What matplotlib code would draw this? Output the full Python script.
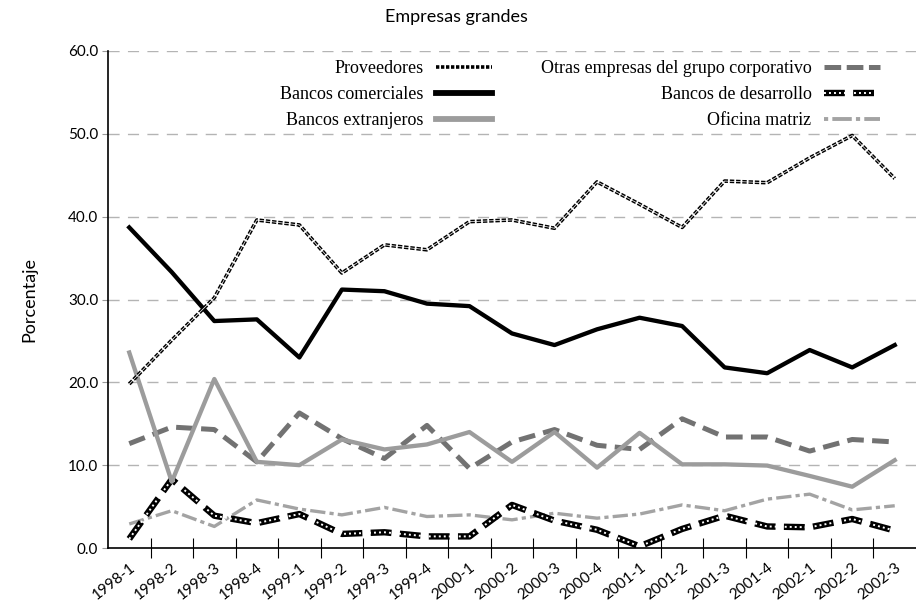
import matplotlib

matplotlib.use("Agg")
import matplotlib.pyplot as plt
import numpy as np
from matplotlib.lines import Line2D

periods = ["1998-1", "1998-2", "1998-3", "1998-4", "1999-1", "1999-2", "1999-3", "1999-4",
           "2000-1", "2000-2", "2000-3", "2000-4", "2001-1", "2001-2", "2001-3", "2001-4",
           "2002-1", "2002-2", "2002-3"]

proveedores = [19.8, 25.1, 30.2, 39.6, 39.0, 33.2, 36.6, 36.0, 39.4, 39.6, 38.6, 44.2,
               41.5, 38.7, 44.3, 44.1, 47.1, 49.8, 44.6]
bancos_comerciales = [38.7, 33.3, 27.4, 27.6, 23.0, 31.2, 31.0, 29.5, 29.2, 25.9, 24.5, 26.4,
                      27.8, 26.8, 21.8, 21.1, 23.9, 21.8, 24.5]
bancos_extranjeros = [23.6, 8.0, 20.4, 10.4, 10.0, 13.1, 11.9, 12.5, 14.0, 10.4, 14.0, 9.7,
                      13.9, 10.1, 10.1, 9.95, 8.7, 7.4, 10.6]
otras_empresas = [12.6, 14.6, 14.3, 10.4, 16.3, 13.2, 10.8, 14.8, 9.6, 12.8, 14.3, 12.4,
                  11.9, 15.6, 13.4, 13.4, 11.7, 13.1, 12.8]
bancos_desarrollo = [1.1, 8.3, 3.9, 3.0, 4.1, 1.7, 1.9, 1.4, 1.4, 5.2, 3.3, 2.2,
                     0.2, 2.3, 3.9, 2.6, 2.5, 3.5, 2.1]
oficina_matriz = [2.9, 4.5, 2.6, 5.8, 4.7, 4.0, 4.9, 3.8, 4.0, 3.4, 4.2, 3.6,
                  4.1, 5.2, 4.5, 5.9, 6.5, 4.6, 5.1]

SANS = "Lato"
SERIF = "Liberation Serif"

plt.rcParams["lines.scale_dashes"] = False

fig = plt.figure(figsize=(9.16, 6.01), dpi=100)
ax = fig.add_axes([108 / 916, 1 - 548 / 601, 808 / 916, 497 / 601])

x = np.arange(len(periods))

# styles shared by the plotted lines and the legend handles
s_prov = dict(color="black", lw=2.6, dashes=(3.2, 1.3))
s_prov_w = dict(color="white", lw=0.5)
s_com = dict(color="black", lw=3.1)
s_ext = dict(color="#9c9c9c", lw=3.1)
s_otr = dict(color="#727272", lw=3.6, dashes=(12, 6))
s_des = dict(color="black", lw=4.6, dashes=(15, 6))
s_des_w = dict(color="white", lw=1.4, dashes=(1.4, 2.2))
s_ofi = dict(color="#a3a3a3", lw=2.4, dashes=(11, 3, 3, 3))

ax.plot(x, oficina_matriz, **s_ofi)
ax.plot(x, bancos_desarrollo, **s_des)
ax.plot(x, bancos_desarrollo, **s_des_w)
ax.plot(x, otras_empresas, **s_otr)
ax.plot(x, bancos_extranjeros, **s_ext)
ax.plot(x, bancos_comerciales, **s_com)
ax.plot(x, proveedores, **s_prov)
ax.plot(x, proveedores, **s_prov_w)

ax.set_xlim(-0.5, len(periods) - 0.5)
ax.set_ylim(0, 60)
ax.set_yticks(np.arange(0, 61, 10))
ax.set_yticklabels([f"{v:.1f}" for v in np.arange(0, 61, 10)], fontsize=11, family=SANS)
ax.tick_params(axis="y", length=4, color="#999999", pad=3)

ax.set_xticks(x)
ax.set_xticklabels(periods, rotation=38, ha="right", rotation_mode="anchor",
                   fontsize=11, family=SANS)
ax.tick_params(axis="x", which="major", length=0, pad=9)
ax.set_xticks(np.arange(0.5, len(periods) - 1, 1.0), minor=True)
ax.tick_params(axis="x", which="minor", direction="inout", length=14, width=0.8)

for v in range(10, 61, 10):
    ax.axhline(v, color="#b4b4b4", lw=1.0, dashes=(8, 6), zorder=0)

for side in ["top", "right"]:
    ax.spines[side].set_visible(False)
ax.spines["left"].set_linewidth(1.2)
ax.spines["bottom"].set_linewidth(1.2)

ax.set_ylabel("Porcentaje", fontsize=13, family=SANS, labelpad=22)
fig.text(456 / 916, 1 - 17 / 601, "Empresas grandes", ha="center", va="center",
         fontsize=13, family=SANS)

# legend: two right-aligned columns, handle after the text
h_prov = Line2D([], [], color="black", lw=2.6, dashes=(2.4, 1.2))
h_com = Line2D([], [], color="black", lw=4.2)
h_ext = Line2D([], [], color="#9c9c9c", lw=4.2)
h_otr = Line2D([], [], color="#727272", lw=3.6, dashes=(12, 4))
h_des = (Line2D([], [], **s_des), Line2D([], [], **s_des_w))
h_ofi = Line2D([], [], color="#a3a3a3", lw=2.8, dashes=(3, 3, 14, 3))

leg_kw = dict(frameon=False, markerfirst=False, prop={"family": SERIF, "size": 13},
              handlelength=3.1, handletextpad=0.7, labelspacing=0.5, borderaxespad=0,
              borderpad=0)
leg1 = ax.legend([h_prov, h_com, h_ext], ["Proveedores", "Bancos comerciales", "Bancos extranjeros"],
                 loc="upper right", bbox_to_anchor=(492 / 916, 1 - 60 / 601),
                 bbox_transform=fig.transFigure, **leg_kw)
ax.add_artist(leg1)
ax.legend([h_otr, h_des, h_ofi],
          ["Otras empresas del grupo corporativo", "Bancos de desarrollo", "Oficina matriz"],
          loc="upper right", bbox_to_anchor=(880 / 916, 1 - 60 / 601),
          bbox_transform=fig.transFigure, **leg_kw)

fig.savefig("out.png", dpi=100)
